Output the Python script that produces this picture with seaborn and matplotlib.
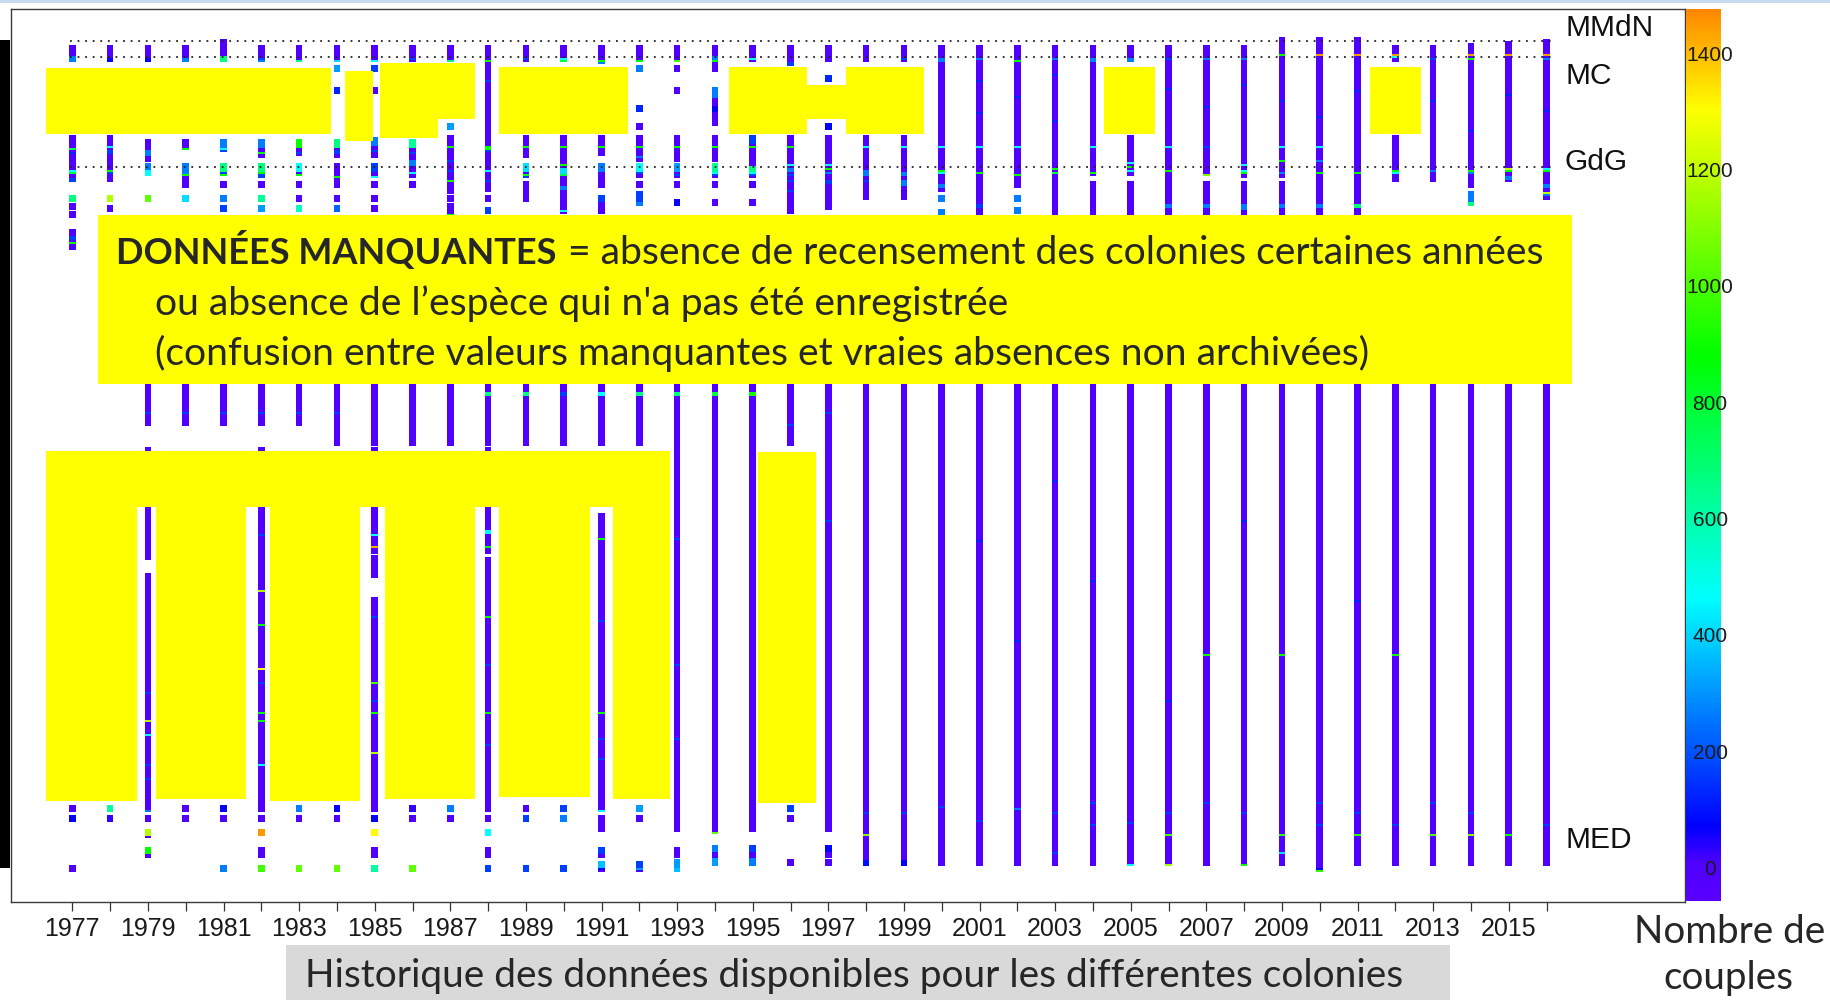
import matplotlib
matplotlib.use("Agg")
import matplotlib.pyplot as plt
from matplotlib import font_manager
from matplotlib.colors import LinearSegmentedColormap, Normalize
from matplotlib.patches import Rectangle
import numpy as np
import pandas as pd
import seaborn as sns

W, H = 1830, 1000

# ---------------------------------------------------------------- data
years = list(range(1977, 2017))

# colonies surveyed each year, as inclusive runs of colony rows (1 = north)
survey_rows = {
    1977: [(5, 10), (50, 70), (80, 80), (84, 84), (88, 88), (97, 104), (385, 385), (390, 390), (415, 415)],
    1978: [(5, 10), (50, 70), (80, 80), (85, 85), (385, 385), (390, 390)],
    1979: [(5, 10), (52, 60), (64, 67), (80, 80), (150, 192), (206, 259), (269, 385), (390, 390), (397, 398), (406, 408)],
    1980: [(5, 10), (52, 54), (64, 73), (80, 80), (150, 192), (385, 385), (390, 390)],
    1981: [(2, 10), (52, 55), (64, 67), (73, 73), (80, 80), (85, 85), (150, 192), (385, 385), (390, 390), (415, 415)],
    1982: [(5, 10), (52, 58), (64, 68), (73, 73), (80, 80), (85, 85), (150, 192), (206, 385), (390, 390), (397, 397), (406, 408), (415, 415)],
    1983: [(5, 10), (52, 57), (64, 67), (73, 73), (80, 80), (85, 85), (150, 192), (385, 385), (390, 390), (415, 415)],
    1984: [(5, 10), (15, 15), (26, 26), (52, 58), (64, 73), (80, 80), (85, 85), (150, 202), (385, 385), (390, 390), (415, 415)],
    1985: [(5, 10), (15, 15), (26, 26), (51, 58), (64, 68), (73, 73), (80, 80), (85, 85), (150, 202), (206, 256), (260, 268), (281, 385), (390, 390), (397, 397), (406, 408), (415, 415)],
    1986: [(5, 10), (52, 68), (73, 73), (150, 202), (385, 385), (390, 390), (415, 415)],
    1987: [(5, 10), (44, 44), (50, 76), (80, 80), (84, 87), (150, 202), (385, 385), (390, 390)],
    1988: [(5, 75), (80, 80), (86, 86), (150, 202), (206, 256), (261, 262), (265, 385), (390, 390), (397, 397), (406, 408), (415, 415)],
    1989: [(5, 10), (50, 58), (64, 68), (73, 80), (150, 202), (385, 385), (390, 390), (415, 415)],
    1990: [(5, 10), (50, 86), (150, 202), (385, 385), (390, 390), (415, 415)],
    1991: [(5, 11), (50, 57), (64, 73), (80, 86), (150, 202), (239, 385), (390, 395), (406, 408), (413, 415)],
    1992: [(5, 10), (15, 15), (35, 35), (44, 44), (50, 60), (64, 68), (73, 73), (78, 82), (150, 202), (385, 385), (390, 390), (413, 415)],
    1993: [(5, 10), (15, 15), (26, 26), (50, 60), (64, 68), (73, 73), (82, 82), (120, 395), (406, 408), (412, 415)],
    1994: [(5, 15), (26, 42), (50, 60), (64, 68), (73, 73), (82, 82), (120, 396), (405, 408), (410, 412)],
    1995: [(5, 10), (50, 68), (73, 73), (82, 82), (120, 395), (405, 408), (410, 412)],
    1996: [(5, 12), (50, 86), (120, 202), (385, 385), (390, 390), (412, 412)],
    1997: [(5, 10), (20, 20), (44, 44), (50, 84), (120, 395), (405, 408), (412, 412)],
    1998: [(5, 10), (50, 79), (120, 412)],
    1999: [(5, 10), (50, 79), (120, 412)],
    2000: [(5, 75), (80, 80), (87, 87), (120, 412)],
    2001: [(5, 412)],
    2002: [(5, 73), (80, 80), (86, 86), (120, 412)],
    2003: [(5, 412)],
    2004: [(5, 67), (73, 412)],
    2005: [(5, 10), (50, 67), (73, 412)],
    2006: [(5, 412)],
    2007: [(5, 67), (73, 412)],
    2008: [(5, 68), (73, 412)],
    2009: [(1, 68), (73, 412)],
    2010: [(1, 415)],
    2011: [(1, 412)],
    2012: [(5, 10), (50, 70), (120, 412)],
    2013: [(5, 70), (120, 412)],
    2014: [(4, 73), (78, 82), (120, 412)],
    2015: [(3, 70), (120, 412)],
    2016: [(2, 79), (120, 412)],
}

# couples counted in most colonies (a handful of pairs)
small_colony_couples = 5

# larger colonies: (year, colony row, number of couples)
large_colonies = [
    (1977, 8, 267), (1977, 9, 267), (1977, 10, 267), (1977, 54, 777), (1977, 56, 125), (1977, 65, 464),
    (1977, 66, 777), (1977, 69, 168), (1977, 70, 168), (1977, 80, 672), (1977, 98, 168), (1977, 99, 168),
    (1977, 101, 900), (1977, 390, 70),
    (1978, 9, 70), (1978, 10, 70), (1978, 53, 464), (1978, 55, 168), (1978, 56, 168), (1978, 65, 881),
    (1978, 66, 168), (1978, 80, 1176), (1978, 385, 631), (1978, 390, 30),
    (1979, 9, 70), (1979, 10, 70), (1979, 55, 267), (1979, 56, 267), (1979, 57, 267), (1979, 64, 267),
    (1979, 65, 464), (1979, 66, 464), (1979, 67, 464), (1979, 80, 1042), (1979, 186, 168), (1979, 326, 168),
    (1979, 340, 1176), (1979, 347, 464), (1979, 362, 168), (1979, 369, 168), (1979, 385, 267),
    (1979, 397, 1176), (1979, 406, 881),
    (1980, 9, 267), (1980, 10, 267), (1980, 54, 881), (1980, 64, 267), (1980, 65, 267), (1980, 66, 267),
    (1980, 67, 881), (1980, 80, 415), (1980, 186, 168),
    (1981, 8, 672), (1981, 9, 672), (1981, 10, 672), (1981, 52, 267), (1981, 53, 267), (1981, 54, 464),
    (1981, 55, 168), (1981, 64, 672), (1981, 65, 672), (1981, 66, 168), (1981, 67, 881), (1981, 80, 267),
    (1981, 85, 168), (1981, 186, 168), (1981, 385, 70), (1981, 415, 267),
    (1982, 9, 168), (1982, 10, 267), (1982, 52, 267), (1982, 53, 267), (1982, 56, 881), (1982, 64, 672),
    (1982, 65, 672), (1982, 66, 881), (1982, 67, 168), (1982, 68, 168), (1982, 80, 631), (1982, 85, 316),
    (1982, 186, 168), (1982, 247, 168), (1982, 275, 1176), (1982, 292, 881), (1982, 314, 1309),
    (1982, 321, 168), (1982, 336, 881), (1982, 340, 881), (1982, 362, 464), (1982, 397, 1455),
    (1982, 415, 988),
    (1983, 10, 672), (1983, 52, 881), (1983, 53, 881), (1983, 56, 168), (1983, 64, 464), (1983, 65, 464),
    (1983, 67, 881), (1983, 85, 568), (1983, 186, 168), (1983, 385, 267), (1983, 415, 1042),
    (1984, 10, 415), (1984, 15, 316), (1984, 26, 125), (1984, 52, 672), (1984, 53, 672), (1984, 55, 168),
    (1984, 56, 168), (1984, 68, 881), (1984, 85, 230), (1984, 186, 168), (1984, 385, 70), (1984, 415, 1042),
    (1985, 10, 464), (1985, 15, 168), (1985, 51, 267), (1985, 52, 267), (1985, 55, 168), (1985, 64, 168),
    (1985, 65, 168), (1985, 68, 464), (1985, 247, 464), (1985, 253, 1446), (1985, 288, 168),
    (1985, 321, 988), (1985, 330, 168), (1985, 336, 881), (1985, 356, 1176), (1985, 390, 70),
    (1985, 397, 1309), (1985, 415, 631),
    (1986, 9, 168), (1986, 52, 631), (1986, 53, 631), (1986, 56, 168), (1986, 60, 267), (1986, 61, 267),
    (1986, 62, 267), (1986, 66, 464), (1986, 385, 30), (1986, 415, 1042),
    (1987, 10, 672), (1987, 44, 316), (1987, 53, 881), (1987, 60, 168), (1987, 65, 168), (1987, 70, 881),
    (1987, 87, 881), (1987, 385, 267),
    (1988, 10, 881), (1988, 20, 168), (1988, 53, 881), (1988, 54, 881), (1988, 55, 168), (1988, 65, 464),
    (1988, 70, 168), (1988, 86, 168), (1988, 176, 672), (1988, 177, 672), (1988, 245, 464), (1988, 246, 464),
    (1988, 253, 881), (1988, 288, 881), (1988, 312, 168), (1988, 336, 881), (1988, 352, 168),
    (1988, 397, 464), (1988, 415, 168),
    (1989, 9, 168), (1989, 53, 881), (1989, 64, 415), (1989, 65, 415), (1989, 67, 881), (1989, 68, 168),
    (1989, 176, 672), (1989, 177, 672), (1989, 390, 168), (1989, 415, 168),
    (1990, 9, 464), (1990, 10, 777), (1990, 53, 881), (1990, 62, 881), (1990, 64, 415), (1990, 65, 415),
    (1990, 66, 415), (1990, 67, 777), (1990, 73, 267), (1990, 74, 267), (1990, 85, 464), (1990, 176, 168),
    (1990, 177, 168), (1990, 385, 168), (1990, 390, 267), (1990, 415, 168),
    (1991, 10, 881), (1991, 11, 267), (1991, 53, 881), (1991, 64, 267), (1991, 65, 267), (1991, 80, 168),
    (1991, 176, 464), (1991, 177, 464), (1991, 249, 881), (1991, 290, 168), (1991, 336, 881),
    (1991, 349, 168), (1991, 359, 168), (1991, 385, 464), (1991, 406, 168), (1991, 413, 365), (1991, 414, 70),
    (1992, 10, 881), (1992, 15, 267), (1992, 35, 125), (1992, 53, 881), (1992, 58, 267), (1992, 64, 464),
    (1992, 65, 464), (1992, 66, 168), (1992, 78, 168), (1992, 79, 168), (1992, 80, 168), (1992, 81, 267),
    (1992, 82, 267), (1992, 176, 672), (1992, 177, 672), (1992, 385, 316), (1992, 413, 168), (1992, 414, 316),
    (1993, 10, 988), (1993, 53, 881), (1993, 64, 316), (1993, 65, 316), (1993, 67, 168), (1993, 82, 70),
    (1993, 176, 672), (1993, 177, 672), (1993, 249, 168), (1993, 312, 168), (1993, 349, 168),
    (1993, 412, 316), (1993, 413, 316), (1993, 414, 365), (1993, 415, 365),
    (1994, 8, 267), (1994, 9, 267), (1994, 10, 881), (1994, 26, 267), (1994, 27, 267), (1994, 28, 267),
    (1994, 33, 70), (1994, 34, 70), (1994, 35, 70), (1994, 53, 881), (1994, 64, 631), (1994, 65, 631),
    (1994, 66, 464), (1994, 67, 168), (1994, 176, 777), (1994, 177, 777), (1994, 396, 1042),
    (1994, 405, 267), (1994, 410, 316), (1994, 411, 316), (1994, 412, 316),
    (1995, 9, 464), (1995, 50, 168), (1995, 51, 168), (1995, 53, 881), (1995, 63, 672), (1995, 64, 672),
    (1995, 65, 672), (1995, 66, 464), (1995, 67, 168), (1995, 176, 900), (1995, 177, 900),
    (1995, 405, 168), (1995, 410, 267), (1995, 411, 267), (1995, 412, 267),
    (1996, 11, 168), (1996, 12, 168), (1996, 53, 881), (1996, 62, 464), (1996, 64, 267), (1996, 65, 267),
    (1996, 67, 168), (1996, 70, 168), (1996, 75, 168), (1996, 192, 168), (1996, 385, 168),
    (1997, 20, 125), (1997, 44, 70), (1997, 62, 464), (1997, 64, 881), (1997, 66, 267), (1997, 70, 168),
    (1997, 71, 168), (1997, 186, 168), (1997, 240, 168), (1997, 405, 70),
    (1998, 53, 464), (1998, 65, 267), (1998, 66, 267), (1998, 67, 267), (1998, 70, 168), (1998, 386, 168),
    (1998, 397, 1100), (1998, 410, 100), (1998, 411, 100), (1998, 412, 100),
    (1999, 9, 168), (1999, 53, 464), (1999, 66, 267), (1999, 67, 267), (1999, 70, 267), (1999, 71, 267),
    (1999, 72, 267), (1999, 386, 168), (1999, 410, 70), (1999, 411, 70), (1999, 412, 70),
    (2000, 9, 267), (2000, 10, 267), (2000, 53, 464), (2000, 65, 881), (2000, 66, 464), (2000, 72, 267),
    (2000, 73, 267), (2000, 80, 267), (2000, 87, 267), (2000, 383, 168),
    (2001, 9, 267), (2001, 20, 125), (2001, 36, 125), (2001, 53, 464), (2001, 66, 881), (2001, 82, 168),
    (2001, 83, 168), (2001, 250, 125), (2001, 390, 168),
    (2002, 10, 881), (2002, 28, 125), (2002, 53, 464), (2002, 67, 881), (2002, 80, 267), (2002, 86, 267),
    (2002, 300, 125), (2002, 384, 267),
    (2003, 9, 267), (2003, 17, 125), (2003, 40, 125), (2003, 64, 881), (2003, 66, 777), (2003, 220, 125),
    (2003, 386, 168), (2003, 406, 168),
    (2004, 9, 267), (2004, 10, 267), (2004, 53, 464), (2004, 66, 881), (2004, 270, 125), (2004, 381, 168),
    (2004, 392, 168),
    (2005, 9, 267), (2005, 10, 267), (2005, 61, 464), (2005, 63, 881), (2005, 65, 464), (2005, 391, 168),
    (2005, 412, 464),
    (2006, 9, 168), (2006, 24, 125), (2006, 53, 464), (2006, 65, 881), (2006, 82, 267), (2006, 83, 267),
    (2006, 330, 125), (2006, 386, 168), (2006, 397, 1000), (2006, 412, 1150),
    (2007, 9, 267), (2007, 33, 125), (2007, 53, 168), (2007, 67, 1095), (2007, 82, 267), (2007, 83, 267),
    (2007, 307, 881), (2007, 381, 168),
    (2008, 9, 267), (2008, 22, 125), (2008, 62, 464), (2008, 65, 464), (2008, 66, 881), (2008, 82, 267),
    (2008, 83, 267), (2008, 84, 267), (2008, 240, 125), (2008, 386, 168), (2008, 412, 881),
    (2009, 7, 881), (2009, 30, 125), (2009, 53, 464), (2009, 60, 881), (2009, 66, 267), (2009, 82, 267),
    (2009, 83, 267), (2009, 307, 881), (2009, 397, 950), (2009, 406, 415),
    (2010, 7, 1455), (2010, 38, 125), (2010, 53, 464), (2010, 60, 267), (2010, 66, 881), (2010, 82, 267),
    (2010, 83, 267), (2010, 381, 168), (2010, 392, 168), (2010, 414, 70), (2010, 415, 950),
    (2011, 7, 1455), (2011, 25, 125), (2011, 66, 881), (2011, 82, 672), (2011, 83, 672), (2011, 280, 125),
    (2011, 386, 168), (2011, 397, 950),
    (2012, 7, 1455), (2012, 8, 464), (2012, 65, 881), (2012, 66, 464), (2012, 307, 881), (2012, 392, 168),
    (2013, 9, 168), (2013, 30, 125), (2013, 65, 267), (2013, 381, 168), (2013, 397, 1000),
    (2014, 7, 1455), (2014, 9, 881), (2014, 45, 125), (2014, 65, 881), (2014, 66, 267), (2014, 78, 267),
    (2014, 79, 267), (2014, 80, 267), (2014, 81, 672), (2014, 82, 672), (2014, 386, 168), (2014, 397, 1100),
    (2015, 7, 1455), (2015, 27, 125), (2015, 64, 1202), (2015, 65, 881), (2015, 68, 267), (2015, 69, 267),
    (2015, 397, 900),
    (2016, 7, 1455), (2016, 9, 267), (2016, 35, 125), (2016, 64, 464), (2016, 65, 881), (2016, 72, 267),
    (2016, 73, 267), (2016, 76, 1202), (2016, 77, 267), (2016, 392, 168),
]

colorbar_ticks = [0, 200, 400, 600, 800, 1000, 1200, 1400]
region_labels = ["MMdN", "MC", "GdG", "MED"]
region_separators = [1.1, 9.1, 64.4]          # colony rows between façades

# gaps in the record, highlighted in yellow: (year from, year to, row from, row to)
gap_boxes = [
    (1976.30, 1983.84, 14.9, 47.75), (1984.21, 1984.95, 16.1, 51.1),
    (1985.14, 1987.65, 12.1, 40.25), (1985.14, 1986.68, 40.0, 49.75),
    (1988.30, 1991.69, 14.1, 47.75), (1994.37, 1996.43, 14.1, 47.75),
    (1996.40, 1997.49, 23.25, 40.25), (1997.46, 1999.53, 14.1, 47.75),
    (2004.30, 2005.65, 14.1, 47.75), (2011.33, 2012.68, 14.1, 47.75),
    (1976.31, 1992.80, 206.4, 234.4),
    (1976.31, 1978.71, 234.0, 381.4), (1979.21, 1981.60, 234.0, 380.4),
    (1982.23, 1984.61, 234.0, 381.4), (1985.27, 1987.65, 234.0, 380.4),
    (1988.29, 1990.69, 234.0, 379.1), (1991.30, 1992.80, 234.0, 380.4),
    (1995.15, 1996.67, 206.6, 382.25),
]

note_bold = "DONNÉES MANQUANTES"
note_line1 = "= absence de recensement des colonies certaines années"
note_line2 = "ou absence de l’espèce qui n'a pas été enregistrée"
note_line3 = "(confusion entre valeurs manquantes et vraies absences non archivées)"
caption = "Historique des données disponibles pour les différentes colonies"
cbar_title = ["Nombre de", "couples"]

# ---------------------------------------------------------------- table
records = []
for yr in years:
    for first, last in survey_rows[yr]:
        for r in range(first, last + 1):
            records.append((yr, r, small_colony_couples))
df = pd.DataFrame(records, columns=["year", "row", "couples"]).set_index(["year", "row"])
for yr, r, c in large_colonies:
    df.loc[(yr, r), "couples"] = c
df = df.reset_index()
# southern colonies drawn first so each northern square sits on top
df = df.sort_values(["row", "year"], ascending=[False, True])

# ---------------------------------------------------------------- style
sns.set_style("white")
names = {f.name for f in font_manager.fontManager.ttflist}
narrow = "Liberation Sans Narrow" if "Liberation Sans Narrow" in names else "Liberation Sans"
plt.rcParams["font.family"] = ["Liberation Sans", "DejaVu Sans"]

vmin, vmax = -55, 1480
anchors = [(-55, "#5A00FF"), (5, "#5000FF"), (70, "#0000FF"), (464, "#00FFFF"),
           (881, "#00FF00"), (1309, "#FFFF00"), (1480, "#FF8800")]
cmap = LinearSegmentedColormap.from_list(
    "couples", [((v - vmin) / (vmax - vmin), c) for v, c in anchors])
norm = Normalize(vmin, vmax)


def fx(x):
    return x / W


def fy(y):
    return 1 - y / H


fig = plt.figure(figsize=(W / 100, H / 100), dpi=100)
fig.patch.set_facecolor("white")

ax = fig.add_axes([fx(11), fy(901.5), (1685 - 11) / W, (901.5 - 8.5) / H])
sns.scatterplot(data=df, x="year", y="row", hue="couples", palette=cmap, hue_norm=norm,
                marker="s", s=23.3, linewidth=0, edgecolor="none", legend=False, ax=ax, zorder=2)

ax.set_xlim(1975.378, 2019.664)
ax.set_ylim(431.5, -15)
ax.set_xlabel("")
ax.set_ylabel("")
ax.set_yticks([])
ax.set_xticks(years)
ax.set_xticklabels([str(y) if y % 2 else "" for y in years], family=narrow, fontsize=18, color="#1a1a1a")
ax.tick_params(axis="x", direction="out", length=6.5, width=0.9, color="#333333", pad=5, bottom=True)
for sp in ax.spines.values():
    sp.set_visible(True)
    sp.set_color("#3a3a3a")
    sp.set_linewidth(1.0)

ax.hlines(region_separators, 1976.95, 2016.15, colors="#222222",
          linestyles=(0, (1, 3.2)), linewidth=1.3, zorder=3)

for x0, x1, r0, r1 in gap_boxes:
    ax.add_patch(Rectangle((x0, r0), x1 - x0, r1 - r0, facecolor="#FFFF00",
                           edgecolor="none", zorder=4))

# note box
ax.add_patch(Rectangle((1977.68, 88.25), 2016.67 - 1977.68, 172.75 - 88.25,
                       facecolor="#FFFF00", edgecolor="none", zorder=5))

# ---------------------------------------------------------------- colour bar
cax = fig.add_axes([fx(1686), fy(901.5), 35 / W, (901.5 - 8.5) / H])
grad = np.linspace(vmin, vmax, 800)[:, None]
cax.imshow(grad, cmap=cmap, norm=norm, aspect="auto", origin="lower",
           extent=[0, 1, vmin, vmax])
cax.set_xlim(0, 1)
cax.set_ylim(vmin, vmax)
cax.set_xticks([])
cax.set_yticks([])
for sp in cax.spines.values():
    sp.set_visible(False)
for t in colorbar_ticks:
    cax.text(0.69, t, str(t), transform=cax.get_yaxis_transform(), family=narrow,
             fontsize=15, color="#1a1a1a", ha="center", va="center", clip_on=False)

# ---------------------------------------------------------------- texts
renderer = fig.canvas.get_renderer()


def fit(txt, width_px):
    bb = txt.get_window_extent(renderer)
    txt.set_fontsize(txt.get_fontsize() * width_px / bb.width)


for lab, base in zip(region_labels, [36, 83.5, 169.5, 848]):
    fig.text(fx(1565), fy(base), lab, fontsize=21.5, color="#111111", va="baseline", ha="left")

t3 = fig.text(fx(155), fy(365), note_line3, family="Lato", fontsize=26, va="baseline", zorder=6)
fit(t3, 1214)
fs = t3.get_fontsize()
fig.text(fx(155), fy(314.5), note_line2, family="Lato", fontsize=fs, va="baseline", zorder=6)
tb = fig.text(fx(116), fy(264), note_bold, family="Lato", fontweight="bold", fontsize=fs,
              va="baseline", zorder=6)
fit(tb, 439)
xb = tb.get_window_extent(renderer).x1
fig.text((xb + 12) / W, fy(264), note_line1, family="Lato", fontsize=fs, va="baseline", zorder=6)

fig.patches.append(Rectangle((fx(286), 0), (1450 - 286) / W, 55 / H, transform=fig.transFigure,
                             facecolor="#D9D9D9", edgecolor="none", zorder=0))
cap = fig.text(fx(305), fy(986.7), caption, family="Lato", fontsize=24, va="baseline", ha="left")
fit(cap, 1098)

n1 = fig.text(fx(1729.5), fy(943.3), cbar_title[0], family="Lato", fontsize=26, va="baseline", ha="center")
fit(n1, 191)
fig.text(fx(1728), fy(989), cbar_title[1], family="Lato", fontsize=n1.get_fontsize(),
         va="baseline", ha="center")

# slide edges
fig.patches.append(Rectangle((0, fy(868)), 9.5 / W, (868 - 40) / H, transform=fig.transFigure,
                             facecolor="black", edgecolor="none"))
fig.patches.append(Rectangle((0, fy(3)), 1, 3 / H, transform=fig.transFigure,
                             facecolor="#C9DCEF", edgecolor="none"))

fig.savefig("out.png", dpi=100)
